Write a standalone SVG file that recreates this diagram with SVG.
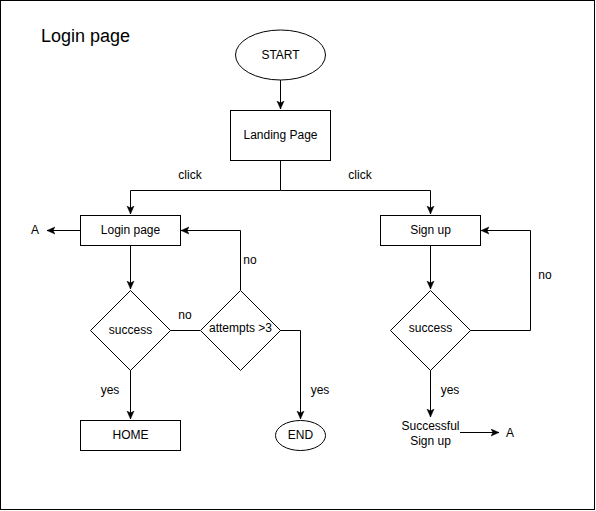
<svg xmlns="http://www.w3.org/2000/svg" width="596" height="511" viewBox="0 0 596 511">
  <style>
    .shape { fill: #ffffff; stroke: #000000; stroke-width: 1; }
    .edge { fill: none; stroke: #000000; stroke-width: 1; }
    .arrow { marker-end: url(#head); }
    text { font-family: "Liberation Sans", Arial, sans-serif; font-size: 12px; fill: #000000; }
    .c { text-anchor: middle; dominant-baseline: central; }
    .title { font-size: 18px; }
  </style>
  <defs>
    <marker id="head" markerWidth="10" markerHeight="10" refX="8" refY="4" orient="auto" markerUnits="userSpaceOnUse">
      <path d="M0,0.5 L8,4 L0,7.5 L2,4 z" fill="#000000" stroke="#000000" stroke-width="0.5"/>
    </marker>
  </defs>

  <rect x="0.5" y="0.5" width="594" height="509" fill="#ffffff" stroke="#000000"/>
  <text x="41" y="42" class="title">Login page</text>

  <g id="connectors">
    <path class="edge arrow" d="M280.5,80 V109"/>
    <path class="edge arrow" d="M280.5,160 V190.5 H130.5 V214"/>
    <path class="edge arrow" d="M280.5,190.5 H430.5 V214"/>
    <path class="edge arrow" d="M80,230.5 H47"/>
    <path class="edge arrow" d="M130.5,245 V289"/>
    <path class="edge arrow" d="M130.5,370 V419"/>
    <path class="edge" d="M170,330.5 H200"/>
    <path class="edge arrow" d="M240.5,290 V230.5 H181"/>
    <path class="edge arrow" d="M280,330.5 H300.5 V419"/>
    <path class="edge arrow" d="M430.5,245 V289"/>
    <path class="edge arrow" d="M470,330.5 H530.5 V230.5 H481"/>
    <path class="edge arrow" d="M430.5,370 V417"/>
    <path class="edge arrow" d="M460,432.5 H499"/>
    <text x="190" y="175" class="c">click</text>
    <text x="360" y="175" class="c">click</text>
    <text x="185" y="315" class="c">no</text>
    <text x="250" y="260" class="c">no</text>
    <text x="110" y="390" class="c">yes</text>
    <text x="320" y="390" class="c">yes</text>
    <text x="545" y="275" class="c">no</text>
    <text x="450" y="390" class="c">yes</text>
    <text x="35" y="230" class="c">A</text>
    <text x="510" y="433" class="c">A</text>
  </g>

  <g id="start">
    <ellipse class="shape" cx="280.5" cy="55" rx="45" ry="25"/>
    <text x="280.5" y="55" class="c">START</text>
  </g>
  <g id="landing-page">
    <rect class="shape" x="230.5" y="110.5" width="100" height="50"/>
    <text x="280.5" y="135" class="c">Landing Page</text>
  </g>
  <g id="login-page">
    <rect class="shape" x="80.5" y="215.5" width="100" height="30"/>
    <text x="130.5" y="230" class="c">Login page</text>
  </g>
  <g id="login-success">
    <path class="shape" d="M130.5,290.5 L170.5,330.5 L130.5,370.5 L90.5,330.5 z"/>
    <text x="130.5" y="330" class="c">success</text>
  </g>
  <g id="attempts">
    <path class="shape" d="M240.5,290.5 L280.5,330.5 L240.5,370.5 L200.5,330.5 z"/>
    <text x="240.5" y="328" class="c">attempts &gt;3</text>
  </g>
  <g id="home">
    <rect class="shape" x="80.5" y="420.5" width="100" height="30"/>
    <text x="130.5" y="435" class="c">HOME</text>
  </g>
  <g id="end">
    <ellipse class="shape" cx="300.5" cy="435.5" rx="25" ry="15"/>
    <text x="300.5" y="435" class="c">END</text>
  </g>
  <g id="sign-up">
    <rect class="shape" x="380.5" y="215.5" width="100" height="30"/>
    <text x="430.5" y="230" class="c">Sign up</text>
  </g>
  <g id="signup-success">
    <path class="shape" d="M430.5,290.5 L470.5,330.5 L430.5,370.5 L390.5,330.5 z"/>
    <text x="430.5" y="328" class="c">success</text>
  </g>
  <g id="successful-sign-up">
    <text x="430.5" y="426" class="c">Successful</text>
    <text x="430.5" y="441" class="c">Sign up</text>
  </g>
</svg>
